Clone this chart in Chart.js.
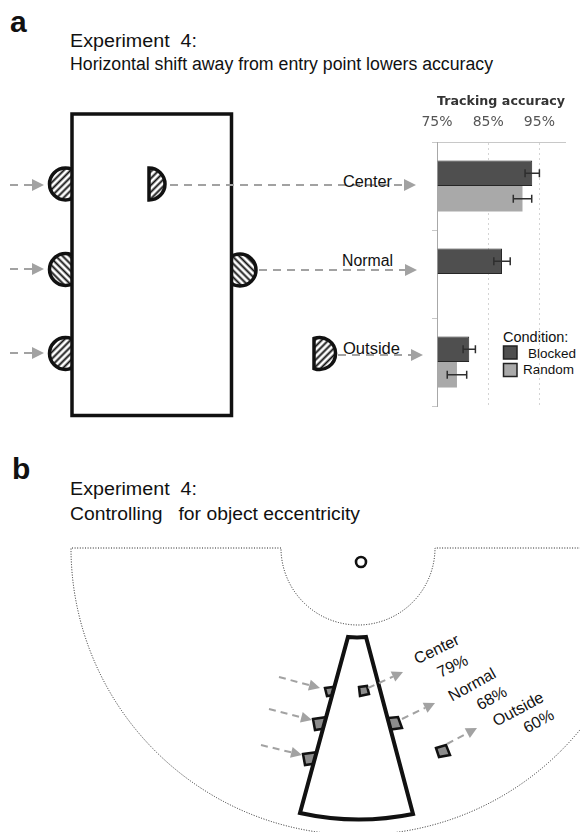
<!DOCTYPE html>
<html>
<head>
<meta charset="utf-8">
<script src="https://cdn.jsdelivr.net/npm/chart.js@4/dist/chart.umd.min.js"></script>
<style>
  body { margin: 0; background: #fff; }
  #page { position: relative; width: 580px; height: 832px; overflow: hidden; }
  #scheme { position: absolute; left: 0; top: 0; }
  #scheme text { font-family: "Liberation Sans", Arial, sans-serif; fill: #111; white-space: pre; }
  #acc { position: absolute; left: 395px; top: 85px; }
</style>
</head>
<body>
<div id="page">
  <svg id="scheme" width="580" height="832" viewBox="0 0 580 832">
    <defs>
      <pattern id="hatchA" width="4.8" height="4.8" patternUnits="userSpaceOnUse" patternTransform="rotate(45)">
        <rect width="4.8" height="4.8" fill="#fff"/>
        <line x1="2.4" y1="0" x2="2.4" y2="4.8" stroke="#111" stroke-width="1.9"/>
      </pattern>
      <pattern id="hatchB" width="4.8" height="4.8" patternUnits="userSpaceOnUse" patternTransform="rotate(-45)">
        <rect width="4.8" height="4.8" fill="#fff"/>
        <line x1="2.4" y1="0" x2="2.4" y2="4.8" stroke="#111" stroke-width="1.9"/>
      </pattern>
    </defs>

    <!-- panel a -->
    <text x="10" y="32" style="font-size:30px;font-weight:bold">a</text>
    <text x="70" y="47" style="font-size:18px" textLength="127" lengthAdjust="spacingAndGlyphs">Experiment  4:</text>
    <text x="70" y="70" style="font-size:18px" textLength="423" lengthAdjust="spacingAndGlyphs">Horizontal shift away from entry point lowers accuracy</text>

    <g stroke="#111" stroke-width="3.5">
      <circle cx="65.5" cy="184" r="16" fill="url(#hatchA)"/>
      <circle cx="65.5" cy="269.5" r="16" fill="url(#hatchB)"/>
      <circle cx="65.5" cy="353.5" r="16" fill="url(#hatchA)"/>
      <circle cx="240" cy="270" r="16" fill="url(#hatchB)"/>
      <rect x="72" y="114" width="159.5" height="301.5" fill="#fff"/>
      <path d="M149 168 A16 16 0 0 1 149 200 Z" fill="url(#hatchA)"/>
      <path d="M314 338.5 A16 16 0 1 1 314 368.5 Z" fill="url(#hatchA)"/>
    </g>
    <g id="arrowsA"></g>
    <text x="343" y="187" style="font-size:16px" textLength="49" lengthAdjust="spacingAndGlyphs">Center</text>
    <text x="342" y="266" style="font-size:16px" textLength="51" lengthAdjust="spacingAndGlyphs">Normal</text>
    <text x="343" y="354" style="font-size:16px" textLength="57" lengthAdjust="spacingAndGlyphs">Outside</text>

    <g id="legend"></g>

    <!-- panel b -->
    <text x="12" y="479" style="font-size:30px;font-weight:bold">b</text>
    <text x="70" y="495" style="font-size:18px" textLength="127" lengthAdjust="spacingAndGlyphs">Experiment  4:</text>
    <text x="70" y="520" style="font-size:18px" textLength="290" lengthAdjust="spacingAndGlyphs">Controlling   for object eccentricity</text>

    <path d="M72 548 L281 548 A77 77 0 0 0 435 548 L645 548 A287 287 0 0 1 71 548 Z"
          fill="none" stroke="#222" stroke-width="1" stroke-dasharray="1 1.6"/>
    <circle cx="361" cy="562" r="5" fill="#fff" stroke="#111" stroke-width="2.6"/>

    <g fill="#8c8c8c" stroke="#111" stroke-width="2.5" stroke-linejoin="miter">
      <polygon points="325,688 341,686 342,694 327,696"/>
      <polygon points="313,719 334,716 335,727 315,730"/>
      <polygon points="303,754 326,751 327,762 305,765"/>
      <polygon points="378,719 398,717 402,728 380,731"/>
    </g>
    <path d="M348 637 A90 90 0 0 0 366 637 L413 814 A272 272 0 0 1 300 813 Z"
          fill="#fff" stroke="#111" stroke-width="4" stroke-linejoin="miter"/>
    <g fill="#8c8c8c" stroke="#111" stroke-width="2.5" stroke-linejoin="miter">
      <polygon points="359,687 367,686 369,694 360,696"/>
      <polygon points="436,748 446,745 450,755 439,757"/>
    </g>
    <g id="arrowsB"></g>
    <g style="font-size:16px" text-anchor="middle" dominant-baseline="central">
      <text transform="translate(436.5,649) rotate(-26)">Center</text>
      <text transform="translate(452.5,666) rotate(-26)">79%</text>
      <text transform="translate(472,684.5) rotate(-29)">Normal</text>
      <text transform="translate(491.5,698) rotate(-29)">68%</text>
      <text transform="translate(518,709) rotate(-28)">Outside</text>
      <text transform="translate(538.5,721) rotate(-28)">60%</text>
    </g>
  </svg>
  <canvas id="acc" width="185" height="330"></canvas>
</div>

<script>
// Tracking accuracy (%) per object position
const categories = ["Center", "Normal", "Outside"];
const conditions = ["Blocked", "Random"];
const blocked = [93.6, 87.7, 81.3];
const blockedErr = [1.4, 1.6, 1.2];
const random = [91.7, null, 78.9];
const randomErr = [1.8, null, 1.9];
const xTicks = [75, 85, 95];

const BLOCKED_FILL = "#4f4f4f";
const RANDOM_FILL = "#a9a9a9";
const ARROW = "#a2a2a2";

// dashed gray arrow with a filled head
function arrow(x1, y1, x2, y2, head, half, dash) {
  const dx = x2 - x1, dy = y2 - y1, len = Math.hypot(dx, dy);
  const ux = dx / len, uy = dy / len;
  const bx = x2 - ux * head, by = y2 - uy * head;
  return `<line x1="${x1}" y1="${y1}" x2="${bx}" y2="${by}" stroke="${ARROW}" stroke-width="2" stroke-dasharray="${dash}"/>` +
    `<polygon points="${x2},${y2} ${bx - uy * half},${by + ux * half} ${bx + uy * half},${by - ux * half}" fill="${ARROW}"/>`;
}

document.getElementById("arrowsA").innerHTML = [
  arrow(10, 185, 44, 185, 12, 6, "8 6"),
  arrow(10, 269, 44, 269, 12, 6, "8 6"),
  arrow(10, 353, 44, 353, 12, 6, "8 6"),
  arrow(170, 185, 416, 185, 12, 6, "8 6"),
  arrow(259, 270, 417, 270, 12, 6, "8 6"),
  arrow(338, 355, 423, 355, 12, 6, "8 6"),
].join("");

document.getElementById("arrowsB").innerHTML = [
  arrow(279, 677, 320, 688, 11, 5.5, "7 5"),
  arrow(269, 709, 312, 720, 11, 5.5, "7 5"),
  arrow(261, 745, 302, 755, 11, 5.5, "7 5"),
  arrow(368, 688, 403, 672, 11, 5.5, "7 5"),
  arrow(402, 719, 435, 703, 11, 5.5, "7 5"),
  arrow(447, 744, 477, 728, 11, 5.5, "7 5"),
].join("");

// legend
document.getElementById("legend").innerHTML =
  `<text x="503" y="342" style="font-size:14.5px">Condition:</text>` +
  `<rect x="503.5" y="346" width="13.5" height="13" fill="${BLOCKED_FILL}" stroke="#222" stroke-width="1.5"/>` +
  `<rect x="503.5" y="363.5" width="13.5" height="13" fill="${RANDOM_FILL}" stroke="#222" stroke-width="1.5"/>` +
  `<text x="528" y="358" style="font-size:13.5px">${conditions[0]}</text>` +
  `<text x="523" y="374" style="font-size:13.5px">${conditions[1]}</text>`;

// error bars drawn through the chart scales
const errorBars = {
  id: "errorBars",
  afterDatasetsDraw(chart) {
    const ctx = chart.ctx;
    const x = chart.scales.x;
    ctx.save();
    ctx.strokeStyle = "#2e2e2e";
    ctx.lineWidth = 1.5;
    chart.data.datasets.forEach((ds, di) => {
      chart.getDatasetMeta(di).data.forEach((bar, i) => {
        const v = ds.data[i], e = ds.err[i];
        if (v == null || e == null) return;
        const x1 = x.getPixelForValue(v - e);
        const x2 = x.getPixelForValue(v + e);
        const cap = 4;
        ctx.beginPath();
        ctx.moveTo(x1, bar.y); ctx.lineTo(x2, bar.y);
        ctx.moveTo(x1, bar.y - cap); ctx.lineTo(x1, bar.y + cap);
        ctx.moveTo(x2, bar.y - cap); ctx.lineTo(x2, bar.y + cap);
        ctx.stroke();
      });
    });
    ctx.restore();
  },
};

new Chart(document.getElementById("acc"), {
  type: "bar",
  data: {
    labels: categories,
    datasets: [
      {
        label: conditions[0],
        data: blocked,
        err: blockedErr,
        base: 75,
        backgroundColor: BLOCKED_FILL,
        borderColor: "#262626",
        borderWidth: 1,
      },
      {
        label: conditions[1],
        data: random,
        err: randomErr,
        base: 75,
        backgroundColor: RANDOM_FILL,
        borderWidth: 0,
      },
    ],
  },
  options: {
    indexAxis: "y",
    responsive: false,
    animation: false,
    categoryPercentage: 0.58,
    barPercentage: 1,
    layout: { padding: { right: 15, bottom: 9 } },
    plugins: { legend: { display: false }, tooltip: { enabled: false } },
    scales: {
      x: {
        position: "top",
        min: 75,
        max: 100,
        afterBuildTicks: (s) => {
          s.ticks = xTicks.map((v) => ({ value: v }));
        },
        afterFit: (s) => {
          s.height = 57;
        },
        ticks: {
          callback: (v) => `${v}%`,
          color: "#555",
          font: { family: "DejaVu Sans", size: 14 },
          padding: 11,
        },
        grid: {
          drawTicks: false,
          color: (c) => (c.tick && c.tick.value === 75 ? "rgba(0,0,0,0)" : "#d4d4d4"),
        },
        border: { color: "#c8c8c8", dash: [2, 3] },
        title: {
          display: true,
          text: "Tracking accuracy",
          color: "#333",
          font: { family: "DejaVu Sans", size: 13, weight: "bold" },
          padding: { top: 9, bottom: 0 },
        },
      },
      y: {
        afterFit: (s) => {
          s.width = 42;
        },
        ticks: { display: false },
        grid: { drawOnChartArea: false, tickLength: 5, color: "#c8c8c8", offset: true },
        border: { color: "#a8a8a8" },
      },
    },
  },
  plugins: [errorBars],
});
</script>
</body>
</html>
